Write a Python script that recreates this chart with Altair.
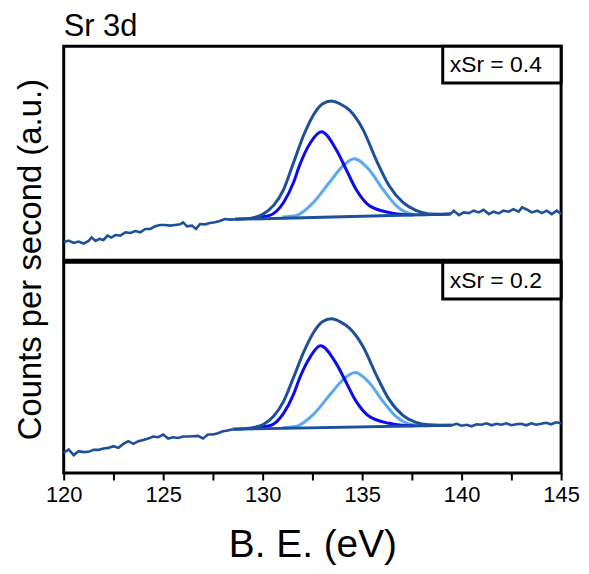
import altair as alt
import pandas as pd

FONT = "Liberation Sans"

# ---------------- data (binding energy in eV, intensity in a.u.) ----------------
TOP_LABEL = "xSr = 0.4"
BOT_LABEL = "xSr = 0.2"

TOP_BG_X = [120.0, 120.25, 120.5, 120.75, 121.0, 121.25, 121.4, 121.6, 121.8, 122.0, 122.2, 122.4,
            122.6, 122.85, 123.1, 123.35, 123.6, 123.85, 124.1, 124.35, 124.6, 124.85, 125.1, 125.35,
            125.6, 125.85, 126.0, 126.2, 126.45, 126.65, 126.85, 127.1, 127.35, 127.6, 127.85, 128.1,
            128.35, 128.6]
TOP_BG_Y = [18, 19.7, 17.3, 18.7, 16.7, 19.3, 23, 19.3, 21.3, 20.3, 24.7, 22.7,
            25.3, 24.7, 28, 27.3, 29.3, 28, 31.3, 31.3, 34, 35.3, 35.3, 34.7,
            35.3, 36, 38, 34, 34.7, 31.3, 36.3, 36, 37.3, 38, 39.3, 41.3,
            40.7, 41]
TOP_TAIL_X = [139.45, 139.6, 139.87, 140.1, 140.37, 140.6, 140.87, 141.1, 141.37, 141.6, 141.87, 142.1,
              142.37, 142.6, 142.87, 143.03, 143.3, 143.53, 143.8, 144.03, 144.28, 144.53, 144.78, 145.0]
TOP_TAIL_Y = [46.3, 49.7, 45.3, 48, 47.3, 49.7, 48, 50.7, 46.3, 48.7, 47, 49.7,
              48.7, 51.3, 48.7, 53, 50.7, 48, 49.7, 47.3, 49.7, 46.3, 49.7, 46.3]
TOP_BASE_X = [128.6, 139.45]
TOP_BASE_Y = [41, 46.3]
TOP_ENV_X = [128.6, 129.0, 129.5, 130.0, 130.55, 131.05, 131.55, 132.05, 132.55, 133.0, 133.45,
             133.9, 134.35, 135.05, 135.7, 136.35, 137.05, 137.7, 138.35, 139.0, 139.45]
TOP_ENV_Y = [41, 41.5, 42.5, 46, 55, 71, 98, 125, 146, 157, 160,
             157, 151, 131, 101, 75, 58, 50, 46.5, 46, 46.3]
TOP_P1_X = [129.5, 130.35, 131.05, 131.55, 131.85, 132.4, 132.95, 133.7, 134.2, 134.7, 135.35, 136.35, 137.0, 137.6]
TOP_P1_Y = [42.5, 45, 58, 78, 95, 118, 129, 111, 91, 71, 55, 48, 46, 45.5]
TOP_P2_X = [131.0, 131.7, 132.55, 133.35, 134.05, 134.6, 135.35, 136.05, 136.7, 137.55, 138.3]
TOP_P2_Y = [43.5, 45, 58, 78, 95, 102, 91, 71, 55, 46, 45.5]

BOT_BG_X = [120.0, 120.25, 120.5, 120.75, 121.0, 121.25, 121.5, 121.75, 122.0, 122.25, 122.5, 122.75,
            123.0, 123.25, 123.5, 123.75, 124.0, 124.25, 124.5, 124.75, 125.0, 125.25, 125.5, 125.75,
            126.0, 126.25, 126.5, 126.75, 127.0, 127.25, 127.5, 127.75, 128.0, 128.25, 128.5]
BOT_BG_Y = [20.3, 23.7, 18, 22, 21, 21.3, 23.3, 23.3, 24.7, 25.3, 27, 25.3,
            29.3, 32, 29.3, 32, 33.3, 34.7, 36.7, 36, 38.7, 34.7, 36, 35.3,
            36.7, 36.7, 37, 37.3, 34.7, 38.7, 38.7, 40, 42, 42.7, 44]
BOT_TAIL_X = [139.5, 139.75, 140.0, 140.25, 140.5, 140.75, 141.0, 141.25, 141.5, 141.75, 142.0, 142.25,
              142.5, 142.75, 143.0, 143.25, 143.5, 143.75, 144.0, 144.25, 144.5, 144.75, 145.0]
BOT_TAIL_Y = [48, 49.5, 47.5, 48.5, 47, 49, 48.5, 50, 48, 49.5, 48.5, 50,
              48, 49, 49.5, 48, 50, 48.5, 49.5, 50.5, 49, 51, 50]
BOT_BASE_X = [128.5, 139.5]
BOT_BASE_Y = [44, 48]
BOT_ENV_X = [128.5, 129.0, 129.5, 130.0, 130.55, 131.05, 131.55, 132.05, 132.55, 133.0, 133.45,
             133.9, 134.35, 135.05, 135.7, 136.35, 137.05, 137.7, 138.35, 139.0, 139.5]
BOT_ENV_Y = [44, 44.5, 45.5, 48.5, 57, 72, 96, 121, 141, 152, 155,
             152, 146, 127, 99, 74, 58, 51, 48.5, 48, 48]
BOT_P1_X = [129.5, 130.35, 131.05, 131.55, 131.85, 132.4, 132.9, 133.7, 134.2, 134.7, 135.35, 136.35, 137.0, 137.6]
BOT_P1_Y = [45.5, 47.5, 60, 79, 95, 117, 128, 110, 91, 72, 57, 50, 48, 47.5]
BOT_P2_X = [131.0, 131.7, 132.55, 133.35, 134.05, 134.65, 135.35, 136.05, 136.7, 137.55, 138.3]
BOT_P2_Y = [45.5, 47, 59, 78, 94, 101, 91, 72, 57, 48.5, 47.5]

X_TICKS = [120, 122.5, 125, 127.5, 130, 132.5, 135, 137.5, 140, 142.5, 145]

C_DATA = "#1D4F9B"
C_P1 = "#0B0BEE"
C_P2 = "#5AAAF2"


def frame(xs, ys, seg):
    return pd.DataFrame({"be": xs, "cps": ys, "seg": seg, "i": range(len(xs))})


def panel(bg, tail, base, env, p1, p2, label, height, ymax, bottom):
    if bottom:
        x_axis = alt.Axis(values=X_TICKS, labelExpr="datum.value % 5 === 0 ? format(datum.value, 'd') : ''",
                          tickSize=7, tickWidth=2, tickColor="black", domain=False, grid=False,
                          labelFontSize=22, labelFont=FONT, labelColor="black", labelPadding=5,
                          labelFlush=False, labelOverlap=False,
                          title="B. E. (eV)", titleFontSize=39, titleFontWeight="normal",
                          titleFont=FONT, titleColor="black", titlePadding=20)
        y_axis = None
    else:
        x_axis = None
        y_axis = alt.Axis(title="Counts per second (a.u.)", labels=False, ticks=False, domain=False,
                          grid=False, titleFontSize=33, titleFontWeight="normal", titleFont=FONT,
                          titleColor="black", titleY=214, titlePadding=16)
    xenc = alt.X("be:Q", scale=alt.Scale(domain=[120, 145], nice=False, zero=False), axis=x_axis)
    yenc = alt.Y("cps:Q", scale=alt.Scale(domain=[0, ymax], nice=False, zero=False), axis=y_axis)

    def line(df, color, width, interp):
        return alt.Chart(df).mark_line(color=color, strokeWidth=width, interpolate=interp).encode(
            x=xenc, y=yenc, order="i:Q", detail="seg:N")

    data_df = pd.concat([frame(bg[0], bg[1], "lo"), frame(tail[0], tail[1], "hi")])
    layers = [
        line(frame(p2[0], p2[1], "p2"), C_P2, 3, "monotone"),
        line(frame(p1[0], p1[1], "p1"), C_P1, 3, "monotone"),
        line(frame(base[0], base[1], "base"), C_DATA, 3, "linear"),
        line(frame(env[0], env[1], "env"), C_DATA, 3, "monotone"),
        line(data_df, C_DATA, 2.6, "linear"),
    ]
    lab = pd.DataFrame({"label": [label]})
    box = alt.Chart(lab).mark_rect(fill="white", stroke="black", strokeWidth=3).encode(
        x=alt.value(381), x2=alt.value(500), y=alt.value(0), y2=alt.value(37))
    txt = alt.Chart(lab).mark_text(align="left", baseline="middle", fontSize=23, font=FONT,
                                   color="black").encode(
        x=alt.value(388), y=alt.value(19), text="label:N")
    ch = alt.layer(*layers, box, txt).properties(width=500, height=height)
    return ch


top = panel((TOP_BG_X, TOP_BG_Y), (TOP_TAIL_X, TOP_TAIL_Y), (TOP_BASE_X, TOP_BASE_Y),
            (TOP_ENV_X, TOP_ENV_Y), (TOP_P1_X, TOP_P1_Y), (TOP_P2_X, TOP_P2_Y),
            TOP_LABEL, 215, 215, False).properties(
    title=alt.TitleParams("Sr 3d", anchor="start", fontSize=31, fontWeight="normal", font=FONT,
                          color="black", offset=2, frame="group"))
bot = panel((BOT_BG_X, BOT_BG_Y), (BOT_TAIL_X, BOT_TAIL_Y), (BOT_BASE_X, BOT_BASE_Y),
            (BOT_ENV_X, BOT_ENV_Y), (BOT_P1_X, BOT_P1_Y), (BOT_P2_X, BOT_P2_Y),
            BOT_LABEL, 212, 212, True)

chart = alt.vconcat(top, bot, spacing=2, bounds="flush").properties(
    padding={"left": 5, "top": 0, "right": 0, "bottom": 0}, background="white"
).configure_view(stroke="black", strokeWidth=3)

chart.save("out.html", embed_options={"renderer": "svg", "actions": False})
